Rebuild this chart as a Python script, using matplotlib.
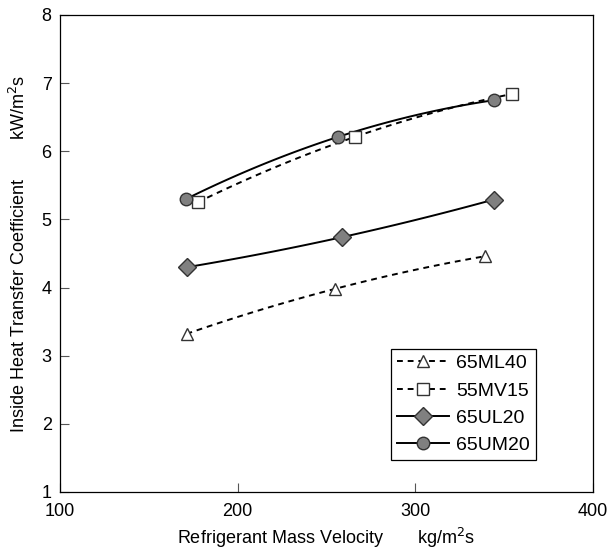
import numpy as np
import matplotlib
matplotlib.use('Agg')
import matplotlib.pyplot as plt

plt.rcParams['font.family'] = ['Liberation Sans', 'DejaVu Sans']

# Refrigerant mass velocity (kg/m2s) and heat transfer coefficient (kW/m2s)
ml40_x = [171.2, 254.7, 339.3]
ml40_y = [3.32, 3.98, 4.46]
mv15_x = [177.4, 265.9, 354.3]
mv15_y = [5.25, 6.21, 6.84]
ul20_x = [171.7, 258.8, 344.0]
ul20_y = [4.30, 4.74, 5.29]
um20_x = [171.0, 256.4, 344.4]
um20_y = [5.30, 6.21, 6.75]

dash = (0, (3, 2.5))
series = [
    ('65ML40', ml40_x, ml40_y, '^', 9, 'white', dash),
    ('55MV15', mv15_x, mv15_y, 's', 9, 'white', dash),
    ('65UL20', ul20_x, ul20_y, 'D', 9.5, '#808080', '-'),
    ('65UM20', um20_x, um20_y, 'o', 9, '#808080', '-'),
]

fig = plt.figure(figsize=(6.15, 5.5), dpi=100)
ax = fig.add_axes([0.0976, 0.1055, 0.8667, 0.8673])

for name, x, y, mk, ms, fc, ls in series:
    # smooth curve through the three points
    c = np.polyfit(x, y, 2)
    xs = np.linspace(x[0], x[-1], 100)
    ax.plot(xs, np.polyval(c, xs), color='black', lw=1.4, ls=ls, zorder=2)
    ax.plot(x, y, ls='none', marker=mk, ms=ms,
            mfc=fc, mec='#333333', mew=1.0, zorder=3)
    # legend entry
    ax.plot([], [], color='black', lw=1.4, ls=ls, marker=mk, ms=ms,
            mfc=fc, mec='#333333', mew=1.0, label=name)

ax.set_xlim(100, 400)
ax.set_ylim(1, 8)
ax.set_xticks([100, 200, 300, 400])
ax.set_yticks(range(1, 9))
ax.tick_params(direction='in', length=6.5, width=0.8, labelsize=13,
               color='#555555', labelcolor='black')
ax.tick_params(axis='x', pad=8)
ax.tick_params(axis='y', pad=6)
for sp in ax.spines.values():
    sp.set_linewidth(0.9)

ax.set_xlabel('Refrigerant Mass Velocity       kg/m$^2$s', fontsize=13,
              labelpad=4)
ax.set_ylabel('Inside Heat Transfer Coefficient        kW/m$^2$s', fontsize=13,
              labelpad=9)

leg = ax.legend(loc='lower right', bbox_to_anchor=(0.893, 0.067),
                borderaxespad=0, fontsize=14, fancybox=False,
                edgecolor='black', framealpha=1, handlelength=2.7,
                handletextpad=0.36, labelspacing=0.5, borderpad=0.3)
leg.get_frame().set_linewidth(0.9)

fig.savefig('out.png', dpi=100)
